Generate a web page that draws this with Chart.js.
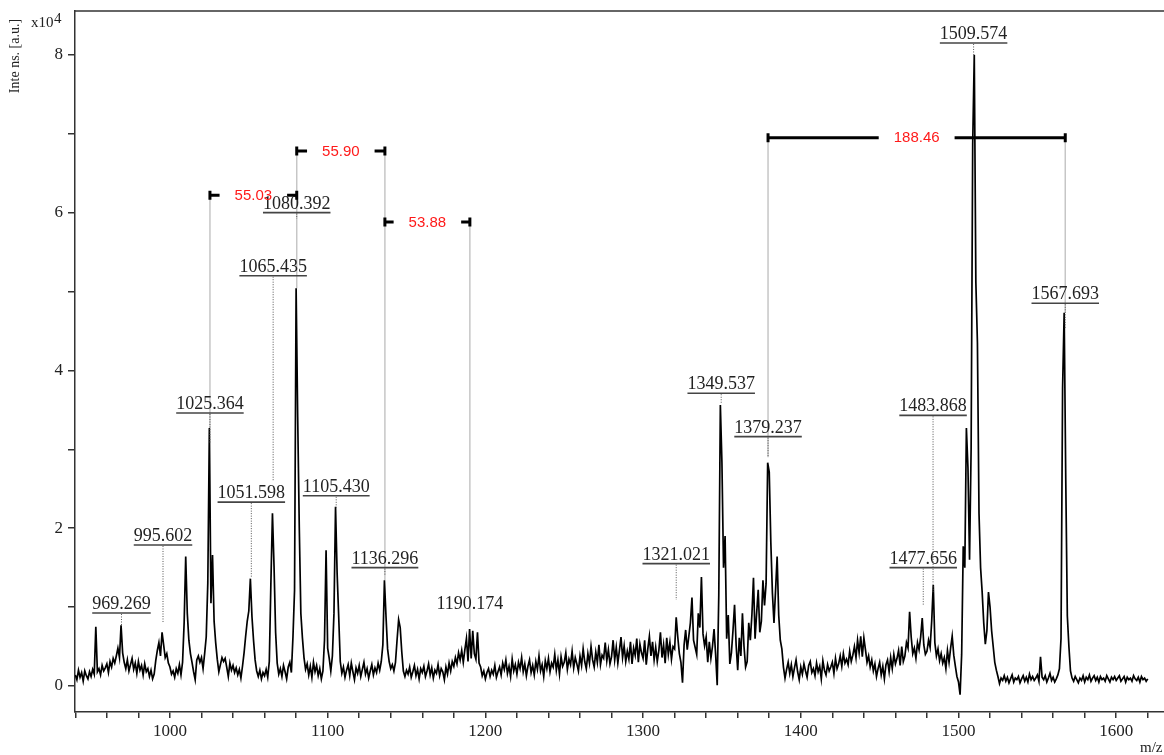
<!DOCTYPE html>
<html>
<head>
<meta charset="utf-8">
<style>
  html, body { margin: 0; padding: 0; background: #fff; }
  #wrap { position: relative; width: 1164px; height: 755px; }
</style>
<script src="https://cdn.jsdelivr.net/npm/chart.js@4.4.0/dist/chart.umd.min.js"></script>
</head>
<body>
<div id="wrap"><canvas id="spectrum"></canvas></div>
<script>
const MZ_START = 940;
const MZ_STEP = 1;
const INTENSITY = [
  .14,.08,.20,.11,.17,.06,.19,.13,.09,.18,   // 940
  .12,.21,.15,.75,.18,.22,.14,.26,.19,.23,   // 950
  .28,.17,.31,.24,.35,.29,.38,.48,.36,.77,   // 960
  .42,.30,.22,.33,.19,.27,.35,.21,.29,.16,   // 970
  .31,.20,.26,.14,.28,.18,.22,.12,.20,.09,   // 980
  .15,.32,.45,.55,.38,.68,.52,.36,.41,.29,   // 990
  .24,.15,.19,.11,.22,.16,.27,.14,.30,.80,   // 1000
  1.64,.92,.58,.41,.30,.18,.08,.33,.38,.30,  // 1010
  .36,.22,.41,.62,1.30,3.27,1.05,1.66,.82,.55, // 1020
  .34,.18,.27,.36,.31,.35,.24,.12,.29,.20,   // 1030
  .26,.17,.23,.14,.21,.10,.25,.42,.63,.82,   // 1040
  .95,1.36,.88,.58,.33,.19,.12,.20,.09,.17,  // 1050
  .13,.21,.11,.31,1.30,2.19,1.52,.68,.29,.15, // 1060
  .22,.12,.26,.18,.09,.24,.30,.17,.62,1.21,  // 1070
  5.04,3.41,2.02,.92,.61,.36,.21,.28,.14,.25, // 1080
  .11,.30,.18,.26,.13,.22,.09,.19,.58,1.72,  // 1090
  .48,.35,.19,.38,.92,2.27,1.43,.88,.31,.16, // 1100
  .24,.11,.20,.27,.13,.29,.18,.08,.23,.16,   // 1110
  .26,.12,.21,.30,.15,.22,.10,.19,.27,.14,   // 1120
  .23,.17,.29,.20,.31,.52,1.34,.88,.47,.31,  // 1130
  .22,.27,.19,.30,.58,.84,.74,.43,.19,.12,   // 1140
  .20,.15,.24,.11,.18,.26,.13,.21,.09,.22,   // 1150
  .17,.25,.12,.19,.28,.14,.23,.10,.20,.16,   // 1160
  .27,.13,.22,.18,.08,.24,.15,.29,.19,.31,   // 1170
  .25,.36,.28,.42,.33,.45,.30,.46,.60,.31,   // 1180
  .72,.35,.70,.41,.34,.68,.29,.24,.13,.19,   // 1190
  .09,.17,.22,.12,.20,.15,.26,.11,.18,.24,   // 1200
  .14,.29,.21,.33,.16,.25,.12,.34,.19,.27,   // 1210
  .15,.30,.22,.36,.18,.28,.13,.25,.33,.17,   // 1220
  .26,.14,.31,.21,.38,.19,.27,.12,.32,.22,   // 1230
  .35,.18,.29,.24,.40,.20,.33,.15,.37,.25,   // 1240
  .30,.42,.21,.34,.27,.44,.23,.36,.28,.19,   // 1250
  .38,.26,.47,.31,.22,.41,.29,.50,.33,.24,   // 1260
  .43,.30,.52,.27,.39,.35,.55,.32,.46,.28,   // 1270
  .37,.58,.33,.49,.29,.45,.62,.36,.51,.31,   // 1280
  .44,.34,.56,.28,.48,.39,.60,.30,.53,.42,   // 1290
  .35,.58,.27,.47,.63,.38,.56,.33,.49,.31,   // 1300
  .45,.68,.36,.52,.29,.61,.40,.55,.34,.50,   // 1310
  .47,.87,.62,.41,.30,.04,.52,.71,.46,.63,   // 1320
  .80,1.12,.58,.49,.40,.92,.74,1.38,.66,.51, // 1330
  .62,.30,.56,.35,.50,.72,.40,.01,1.15,3.56, // 1340
  2.83,1.50,1.90,.60,.90,.28,.42,.70,1.03,.52, // 1350
  .20,.61,.38,.92,.50,.24,.31,.80,.58,.90,   // 1360
  1.37,.60,.92,1.22,.68,.82,1.34,1.02,1.30,2.83, // 1370
  2.71,1.82,1.18,.80,1.21,1.64,.90,.58,.47,.24, // 1380
  .10,.21,.30,.16,.27,.12,.23,.33,.18,.08,   // 1390
  .24,.15,.28,.19,.11,.26,.31,.17,.22,.13,   // 1400
  .29,.18,.25,.09,.32,.20,.14,.27,.19,.24,   // 1410
  .30,.16,.35,.22,.28,.38,.25,.41,.29,.34,   // 1420
  .27,.44,.31,.39,.50,.36,.58,.42,.63,.37,   // 1430
  .61,.46,.30,.38,.24,.33,.19,.28,.12,.22,   // 1440
  .30,.14,.25,.09,.27,.33,.18,.36,.22,.40,   // 1450
  .28,.35,.45,.26,.50,.31,.38,.55,.48,.94,   // 1460
  .62,.41,.48,.35,.55,.46,.62,.86,.52,.40,   // 1470
  .44,.58,.49,.82,1.28,.55,.38,.47,.32,.41,  // 1480
  .29,.36,.22,.45,.30,.48,.63,.39,.25,.12,   // 1490
  .05,-.11,.40,1.77,1.50,3.27,2.76,1.60,3.00,6.87, // 1500
  8.00,5.12,4.35,2.19,1.50,1.19,.80,.53,.70,1.19,  // 1510
  1.00,.70,.50,.30,.20,.12,.03,.10,.07,.13,  // 1520
  .06,.11,.04,.09,.14,.05,.10,.08,.12,.04,   // 1530
  .09,.13,.06,.11,.05,.15,.08,.12,.07,.10,   // 1540
  .14,.06,.37,.11,.08,.13,.05,.10,.16,.07,   // 1550
  .11,.05,.09,.14,.22,.60,3.78,4.73,2.63,.89, // 1560
  .50,.19,.10,.06,.12,.08,.04,.10,.07,.13,   // 1570
  .05,.11,.08,.14,.06,.10,.13,.07,.11,.05,   // 1580
  .12,.08,.10,.06,.13,.09,.05,.11,.08,.12,   // 1590
  .07,.10,.13,.06,.09,.12,.05,.11,.08,.10,   // 1600
  .06,.13,.09,.07,.11,.05,.12,.08,.10,.06,   // 1610
  .09                                        // 1620
];

// Axis ranges and ticks
const X_MIN = 939.8, X_MAX = 1630.3;
const Y_MIN = -0.33, Y_MAX = 8.555;
const X_TICKS = [];
for (let v = 940; v <= 1620; v += 20) X_TICKS.push(v);
const Y_TICKS = [0, 1, 2, 3, 4, 5, 6, 7, 8];

// Peak labels: m/z text, underline height and where the dotted stem stops (10^4 units)
const LABEL_MZ = [969.269, 995.602, 1025.364, 1051.598, 1065.435, 1080.392, 1105.430, 1136.296,
  1190.174, 1321.021, 1349.537, 1379.237, 1477.656, 1483.868, 1509.574, 1567.693];
const LABEL_LEVEL = [0.925, 1.787, 3.46, 2.33, 5.2, 6.0, 2.41, 1.5,
  0.93, 1.55, 3.71, 3.16, 1.5, 3.43, 8.15, 4.85];
const LABEL_STEM_END = [0.77, 0.8, 3.08, 1.37, 2.59, 5.92, 2.26, 1.41,
  null, 1.09, 3.59, 2.9, 1.03, 1.19, 8.0, 4.54];
const LABEL_UNDERLINED = [true, true, true, true, true, true, true, true,
  false, true, true, true, true, true, true, true];

// Mass differences between peaks
const GAP_FROM = [1025.364, 1080.392, 1136.296, 1379.237];
const GAP_TO = [1080.392, 1136.296, 1190.174, 1567.693];
const GAP_TEXT = ["55.03", "55.90", "53.88", "188.46"];
const GAP_LEVEL = [6.22, 6.78, 5.88, 6.95];

// Grey drop lines from the brackets to the peaks
const DROP_MZ = [1025.364, 1080.392, 1136.296, 1190.174, 1379.237, 1567.693];
const DROP_TOP = [6.22, 6.78, 6.78, 5.88, 6.95, 6.95];
const DROP_END = [3.27, 5.04, 1.34, 0.81, 2.9, 4.73];

const SERIF = '"Liberation Serif", "Times New Roman", serif';
const SANS = '"Liberation Sans", Arial, sans-serif';
const AXIS = "#333";

const annotations = {
  id: "annotations",
  beforeDatasetsDraw(chart) {
    const { ctx, scales: { x, y } } = chart;
    ctx.save();
    ctx.strokeStyle = "#c6c6c6";
    ctx.lineWidth = 1.5;
    DROP_MZ.forEach((mz, i) => {
      const px = x.getPixelForValue(mz);
      ctx.beginPath();
      ctx.moveTo(px, y.getPixelForValue(DROP_TOP[i]));
      ctx.lineTo(px, y.getPixelForValue(DROP_END[i]));
      ctx.stroke();
    });
    ctx.restore();
  },
  afterDatasetsDraw(chart) {
    const { ctx, scales: { x, y } } = chart;
    ctx.save();

    // peak labels
    ctx.font = `18px ${SERIF}`;
    ctx.textAlign = "center";
    ctx.textBaseline = "alphabetic";
    LABEL_MZ.forEach((mz, i) => {
      const px = x.getPixelForValue(mz);
      const py = y.getPixelForValue(LABEL_LEVEL[i]);
      const text = mz.toFixed(3);
      const w = ctx.measureText(text).width;
      ctx.fillStyle = "#222";
      ctx.fillText(text, px, py - 4);
      if (LABEL_UNDERLINED[i]) {
        ctx.strokeStyle = "#444";
        ctx.lineWidth = 1.6;
        ctx.setLineDash([]);
        ctx.beginPath();
        ctx.moveTo(px - w / 2, py);
        ctx.lineTo(px + w / 2, py);
        ctx.stroke();
      }
      if (LABEL_STEM_END[i] !== null) {
        ctx.strokeStyle = "#555";
        ctx.lineWidth = 1;
        ctx.setLineDash([1, 1.5]);
        ctx.beginPath();
        ctx.moveTo(px, py + 1);
        ctx.lineTo(px, y.getPixelForValue(LABEL_STEM_END[i]));
        ctx.stroke();
      }
    });
    ctx.setLineDash([]);

    // difference brackets
    ctx.font = `15px ${SANS}`;
    GAP_TEXT.forEach((text, i) => {
      const x1 = x.getPixelForValue(GAP_FROM[i]);
      const x2 = x.getPixelForValue(GAP_TO[i]);
      const py = y.getPixelForValue(GAP_LEVEL[i]);
      const mid = (x1 + x2) / 2;
      const half = ctx.measureText(text).width / 2 + 15;
      ctx.strokeStyle = "#000";
      ctx.lineWidth = 3;
      ctx.beginPath();
      ctx.moveTo(x1, py); ctx.lineTo(mid - half, py);
      ctx.moveTo(mid + half, py); ctx.lineTo(x2, py);
      ctx.stroke();
      ctx.beginPath();
      ctx.moveTo(x1, py - 4.5); ctx.lineTo(x1, py + 4.5);
      ctx.moveTo(x2, py - 4.5); ctx.lineTo(x2, py + 4.5);
      ctx.stroke();
      ctx.fillStyle = "#ff1a1a";
      ctx.textBaseline = "middle";
      ctx.fillText(text, mid, py + 0.5);
    });
    ctx.restore();
  },
  afterDraw(chart) {
    const { ctx, chartArea: area } = chart;
    ctx.save();
    // top frame
    ctx.strokeStyle = AXIS;
    ctx.lineWidth = 1.5;
    ctx.beginPath();
    ctx.moveTo(area.left, area.top);
    ctx.lineTo(chart.width, area.top);
    ctx.stroke();

    ctx.fillStyle = "#222";
    // exponent
    ctx.font = `15px ${SERIF}`;
    ctx.textAlign = "left";
    ctx.textBaseline = "alphabetic";
    ctx.fillText("x10", area.left - 44, area.top + 16);
    ctx.fillText("4", area.left - 21, area.top + 12);

    // y title
    ctx.font = `14px ${SERIF}`;
    ctx.translate(area.left - 60, area.top + 45);
    ctx.rotate(-Math.PI / 2);
    ctx.textAlign = "center";
    ctx.textBaseline = "middle";
    ctx.fillText("Inte ns. [a.u.]", 0, 0);
    ctx.setTransform(1, 0, 0, 1, 0, 0);
    ctx.restore();

    ctx.save();
    ctx.fillStyle = "#222";
    ctx.font = `15px ${SERIF}`;
    ctx.textAlign = "left";
    ctx.textBaseline = "alphabetic";
    ctx.fillText("m/z", area.right - 24, area.bottom + 40);
    ctx.restore();
  },
};

new Chart(document.getElementById("spectrum"), {
  type: "line",
  data: {
    datasets: [{
      data: INTENSITY.map((v, i) => ({ x: MZ_START + i * MZ_STEP, y: v })),
      borderColor: "#000",
      borderWidth: 1.7,
      pointRadius: 0,
      fill: false,
      tension: 0,
    }],
  },
  options: {
    responsive: true,
    maintainAspectRatio: false,
    animation: false,
    parsing: false,
    layout: { padding: { top: 11, right: 0, left: 0, bottom: 0 } },
    plugins: { legend: { display: false }, tooltip: { enabled: false } },
    scales: {
      x: {
        type: "linear",
        min: X_MIN,
        max: X_MAX,
        afterBuildTicks: (s) => { s.ticks = X_TICKS.map((v) => ({ value: v })); },
        afterFit: (s) => { s.height = 43; s.paddingLeft = 0; s.paddingRight = 0; },
        ticks: {
          autoSkip: false,
          maxRotation: 0,
          padding: 3,
          color: "#222",
          font: { family: SERIF, size: 17 },
          callback: (v) => (v % 100 === 0 ? String(v) : ""),
        },
        grid: { drawOnChartArea: false, tickLength: 6, color: AXIS, lineWidth: 1.5 },
        border: { display: true, color: AXIS, width: 1.5 },
      },
      y: {
        min: Y_MIN,
        max: Y_MAX,
        afterBuildTicks: (s) => { s.ticks = Y_TICKS.map((v) => ({ value: v })); },
        afterFit: (s) => { s.width = 75; s.paddingTop = 0; s.paddingBottom = 0; },
        ticks: {
          padding: 5,
          color: "#222",
          font: { family: SERIF, size: 17 },
          callback: (v) => (v % 2 === 0 ? String(v) : ""),
        },
        grid: { drawOnChartArea: false, tickLength: 7, color: AXIS, lineWidth: 1.5 },
        border: { display: true, color: AXIS, width: 1.5 },
      },
    },
  },
  plugins: [annotations],
});
</script>
</body>
</html>
